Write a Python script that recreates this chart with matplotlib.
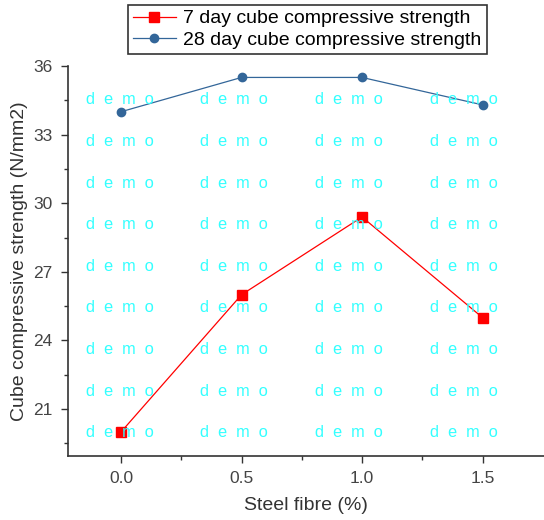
import matplotlib.pyplot as plt

plt.rcParams['font.family'] = ['Liberation Sans', 'DejaVu Sans']

fibre = [0.0, 0.5, 1.0, 1.5]
day7 = [20.0, 26.0, 29.4, 25.0]
day28 = [34.0, 35.5, 35.5, 34.3]

W, H = 544, 520
fig = plt.figure(figsize=(W / 100, H / 100), dpi=100)
ax = fig.add_axes([68 / W, 1 - 456 / H, 1 - 68 / W, (456 - 66) / H])

# watermark grid
cols = [120, 234, 349, 464]
rows = [100 + i * 41.6 for i in range(9)]
for yy in rows:
    for xx in cols:
        fig.text(xx / W, 1 - yy / H, 'd  e  m  o', color='#33ffff', fontsize=11.8,
                 ha='center', va='center', zorder=0)

ax.plot(fibre, day7, color='red', marker='s', markersize=6.5, linewidth=0.9,
        label='7 day cube compressive strength', zorder=3)
ax.plot(fibre, day28, color='#336699', marker='o', markersize=6, linewidth=0.9,
        label='28 day cube compressive strength', zorder=3)

ax.set_xlim(-0.22, 1.755)
ax.set_ylim(18.95, 36)
ax.set_xticks([0.0, 0.5, 1.0, 1.5])
ax.set_xticklabels(['0.0', '0.5', '1.0', '1.5'])
ax.set_yticks([21, 24, 27, 30, 33, 36])
ax.set_xticks([0.25, 0.75, 1.25], minor=True)
ax.set_yticks([19.5, 22.5, 25.5, 28.5, 31.5, 34.5], minor=True)
ax.tick_params(which='major', direction='out', length=5, width=1, labelsize=12.5,
               colors='#333333', labelcolor='#444444', pad=6)
ax.tick_params(which='minor', direction='out', length=3, width=1, colors='#333333')
ax.patch.set_alpha(0)
for s in ['top', 'right']:
    ax.spines[s].set_visible(False)
for s in ['left', 'bottom']:
    ax.spines[s].set_color('#333333')
    ax.spines[s].set_linewidth(1.2)

ax.set_xlabel('Steel fibre (%)', fontsize=14, color='#333333', labelpad=8)
ax.set_ylabel('Cube compressive strength (N/mm2)', fontsize=14, color='#333333', labelpad=4)

leg = fig.legend(loc='upper left', bbox_to_anchor=(128 / W, 1 - 5 / H), fontsize=14,
                 frameon=True, fancybox=False, edgecolor='black', borderpad=0.25,
                 borderaxespad=0, handlelength=2.2, labelspacing=0.2, handletextpad=0.4)
leg.get_frame().set_linewidth(1.2)

fig.savefig('out.png', dpi=100)
